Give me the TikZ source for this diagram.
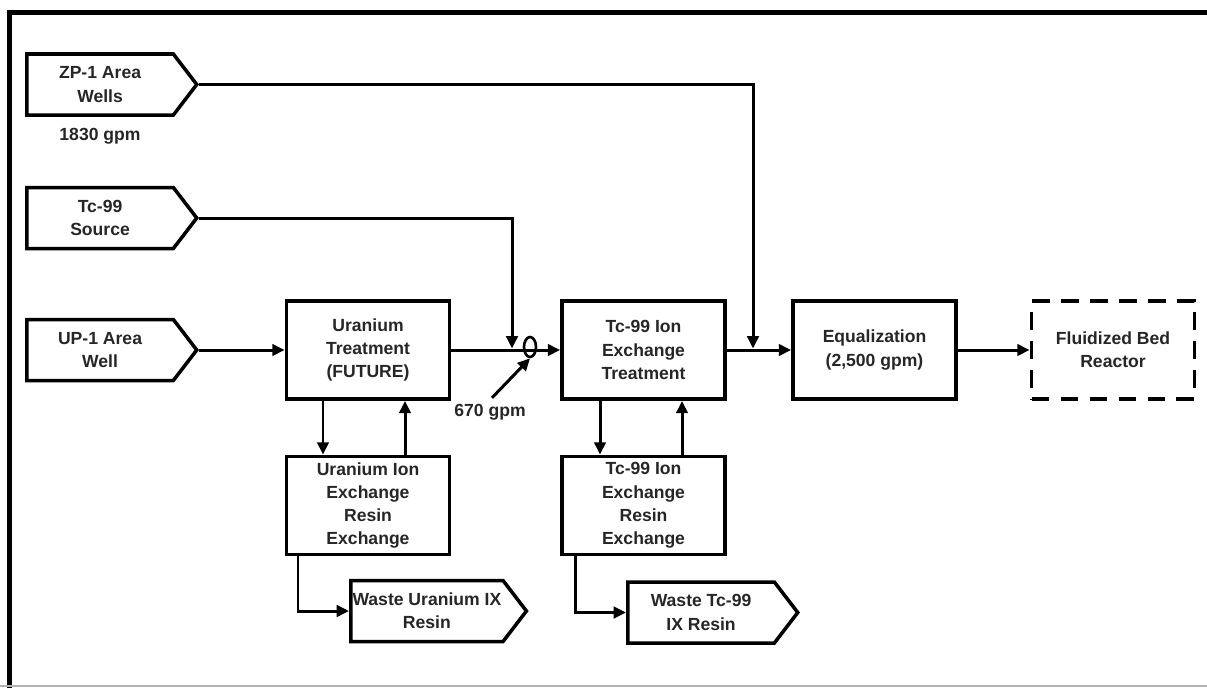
\documentclass[tikz,border=0pt]{standalone}
\usepackage{fontspec}
\setmainfont{Liberation Sans}
\usetikzlibrary{shapes.symbols,shapes.geometric,arrows.meta}

\begin{document}
\begin{tikzpicture}[
  font=\fontsize{10}{13.2}\selectfont\bfseries,
  box/.style={draw, line width=2.2pt, minimum width=3.26cm, minimum height=1.96cm, align=center, text=black!85},
  pent/.style={draw, line width=2pt, signal, signal to=east, signal pointer angle=105, minimum width=3.4cm, minimum height=1.22cm, inner xsep=1pt, align=center, text=black!85},
  flow/.style={line width=1.7pt, -{Triangle[length=7pt,width=6.5pt]}},
  lbl/.style={text=black!85}]
\useasboundingbox (0,0) rectangle (24.14,-13.76);
\draw[line width=3.1pt] (0.19,-13.76) -- (0.19,-0.25) -- (24.14,-0.25);
\draw[black!30, line width=0.6pt] (0,-13.72) -- (24.14,-13.72);

\node[pent, anchor=west] (zp) at (0.5,-1.69) {ZP-1 Area\\Wells};
\node[lbl] (zprate) at (2.0,-2.72) {1830 gpm};
\node[pent, anchor=west] (src) at (0.5,-4.36) {Tc-99\\Source};
\node[pent, anchor=west] (up) at (0.5,-7.0) {UP-1 Area\\Well};
\node[box] (utreat) at (7.36,-7.0) {Uranium\\Treatment\\(FUTURE)};
\node[box] (tcix) at (12.87,-7.0) {Tc-99 Ion\\Exchange\\Treatment};
\node[box] (eq) at (17.49,-7.0) {Equalization\\(2,500 gpm)};
\node[box, dash pattern=on 10pt off 6.5pt] (fbr) at (22.26,-7.0) {Fluidized Bed\\Reactor};
\node[box] (uix) at (7.36,-10.11) {Uranium Ion\\Exchange\\Resin\\Exchange};
\node[box] (tcrx) at (12.87,-10.11) {Tc-99 Ion\\Exchange\\Resin\\Exchange};
\node[pent, anchor=west] (wu) at (6.98,-12.22) {Waste Uranium IX\\Resin};
\node[pent, anchor=west] (wtc) at (12.52,-12.25) {Waste Tc-99\\IX Resin};
\node[draw, ellipse, line width=1.5pt, minimum width=0.24cm, minimum height=0.4cm, inner sep=0pt] (tap) at (10.6,-6.94) {};
\node[lbl] (r670) at (9.8,-8.24) {670 gpm};
\coordinate (srcjoin) at (10.24,-6.97);
\coordinate (zpjoin) at (15.06,-6.97);

\draw[flow] (up.east) -- (utreat.west);
\draw[flow] (utreat.east) -- (tcix.west);
\draw[flow] (tcix.east) -- (eq.west);
\draw[flow] (eq.east) -- (fbr.west);
\draw[flow] (src.east) -| (srcjoin);
\draw[flow] (zp.east) -| (zpjoin);
\draw[flow] ([xshift=-0.9cm]utreat.south) -- ([xshift=-0.9cm]uix.north);
\draw[flow] ([xshift=0.74cm]uix.north) -- ([xshift=0.74cm]utreat.south);
\draw[flow] ([xshift=-0.87cm]tcix.south) -- ([xshift=-0.87cm]tcrx.north);
\draw[flow] ([xshift=0.77cm]tcrx.north) -- ([xshift=0.77cm]tcix.south);
\draw[flow] ([xshift=-1.4cm]uix.south) |- (wu.west);
\draw[flow] ([xshift=-1.37cm]tcrx.south) |- (wtc.west);
\draw[flow] ([xshift=0.04cm]r670.north) -- (tap.south);
\end{tikzpicture}
\end{document}
